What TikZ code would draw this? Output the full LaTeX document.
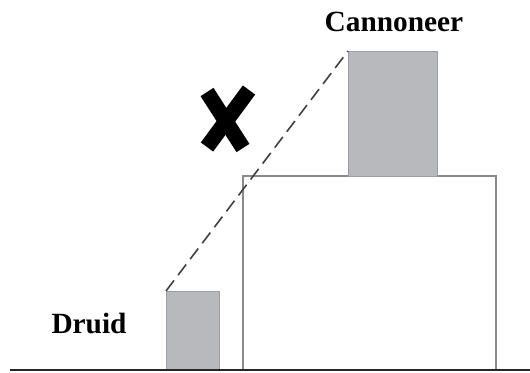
\documentclass[tikz,border=0pt]{standalone}
\usepackage{fontspec}
\setmainfont{Liberation Serif}
\usetikzlibrary{positioning}
\definecolor{unitgray}{HTML}{B8B9BC}
\definecolor{wallgray}{HTML}{8A8A8A}

\begin{document}
\begin{tikzpicture}[x=0.75pt, y=-0.75pt,
    unit/.style={fill=unitgray, draw=unitgray!85!black, line width=0.5pt,
                 inner sep=0, outer sep=0, anchor=south west},
    wall/.style={fill=white, draw=wallgray, line width=0.8pt,
                 inner sep=0, outer sep=0, anchor=south west},
    lbl/.style={font=\fontsize{22}{24}\selectfont\bfseries}]
  \useasboundingbox (0,0) rectangle (530,372);

  % Units and wall
  \node[wall, minimum width=189.75pt, minimum height=145.5pt] (wall) at (243,370) {};
  \node[unit, minimum width=66.75pt, minimum height=93.75pt] (cannoneer) at (348,176) {};
  \node[unit, minimum width=39.75pt, minimum height=59.25pt] (druid) at (166,370) {};

  % Labels
  \node[lbl] (cannoneerlbl) at (394,22) {Cannoneer};
  \node[lbl] (druidlbl) at (89,323) {Druid};

  % Ground
  \coordinate (gl) at (10,370);
  \coordinate (gr) at (530,370);
  \draw[line width=1.6pt, black!85] (gl) -- (gr);

  % Line of sight
  \draw[dash pattern=on 10pt off 5pt, line width=1.2pt, black!75]
    (druid.north west) -- (cannoneer.north west);

  % Blocked mark
  \coordinate (xa) at (207,92);
  \coordinate (xb) at (243,148);
  \coordinate (xc) at (249,90);
  \coordinate (xd) at (207,147);
  \draw[line width=11.5pt] (xa) -- (xb);
  \draw[line width=11.5pt] (xc) -- (xd);
\end{tikzpicture}
\end{document}
